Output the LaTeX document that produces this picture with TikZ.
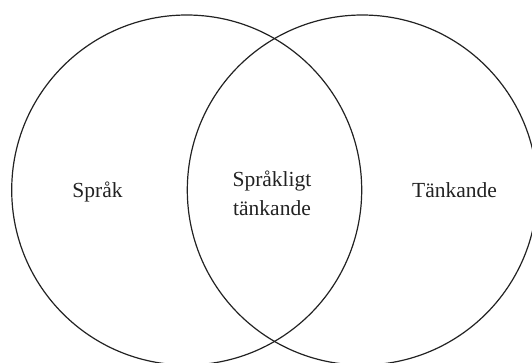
\documentclass[tikz,border=0pt]{standalone}
\usepackage{fontspec}
\setmainfont{Liberation Serif}
\definecolor{ink}{HTML}{222222}
\begin{document}
\begin{tikzpicture}[x=1pt,y=-1pt,
  ring/.style={draw=ink,line width=1.2pt},
  lbl/.style={font=\fontsize{21.5}{29}\selectfont,text=ink,anchor=base,inner sep=0pt,align=center}]
\useasboundingbox (0,0) rectangle (532,362);
\begin{scope}
\clip (0,0) rectangle (532,362);
\draw[ring] (186.7,190) circle[radius=175] coordinate (lc);
\draw[ring] (362.3,190) circle[radius=175] coordinate (rc);
\end{scope}
\node[lbl] (sprak) at (97.5,197) {Språk};
\node[lbl] (tank) at (454.5,197) {Tänkande};
\node[lbl] (mid1) at (272,186) {Språkligt};
\node[lbl] (mid2) at (272,215) {tänkande};
\end{tikzpicture}
\end{document}
